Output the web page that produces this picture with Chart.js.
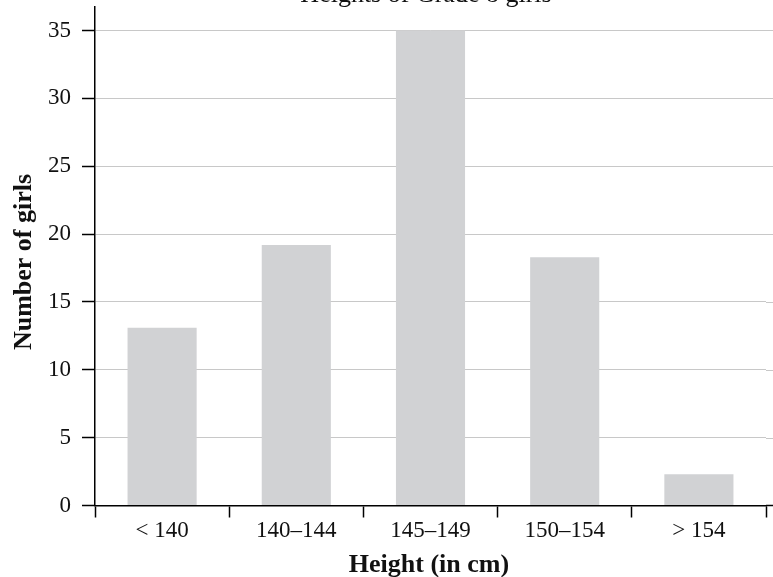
<!DOCTYPE html>
<html>
<head>
<meta charset="utf-8">
<script src="https://cdn.jsdelivr.net/npm/chart.js@4"></script>
<style>
  html, body { margin: 0; padding: 0; background: #fff; }
  #wrap { width: 773px; height: 577px; }
</style>
</head>
<body>
<div id="wrap"><canvas id="chart" width="773" height="577"></canvas></div>
<script>
// data
const categories = ['< 140', '140\u2013144', '145\u2013149', '150\u2013154', '> 154'];
const girls = [13.1, 19.2, 35, 18.3, 2.3];
const yTicks = [0, 5, 10, 15, 20, 25, 30, 35];

const chartTitle = 'Heights of Grade 8 girls';
const xTitle = 'Height (in cm)';
const yTitle = 'Number of girls';

const serif = "'Liberation Serif', 'Times New Roman', serif";

// titles drawn by hand so they sit where the original has them
const titlesPlugin = {
    id: 'titles',
    afterDraw(chart) {
        const ctx = chart.ctx;
        ctx.save();
        ctx.fillStyle = '#111';
        ctx.textAlign = 'center';

        // main title is cut off at the top edge
        ctx.font = '26px ' + serif;
        ctx.textBaseline = 'alphabetic';
        ctx.fillText(chartTitle, 426, 2);

        ctx.font = 'bold 26px ' + serif;
        ctx.textBaseline = 'middle';
        ctx.fillText(xTitle, 429, 565);

        ctx.translate(24, 262);
        ctx.rotate(-Math.PI / 2);
        ctx.fillText(yTitle, 0, 0);
        ctx.restore();
    }
};

// grid lines run a little past the last category in the original
const extendGrid = {
    id: 'extendGrid',
    beforeDatasetsDraw(chart) {
        const ctx = chart.ctx;
        const y = chart.scales.y;
        const area = chart.chartArea;
        ctx.save();
        ctx.strokeStyle = '#c8c8c8';
        ctx.lineWidth = 1;
        yTicks.forEach(v => {
            if (v === 0) return;
            const py = Math.round(y.getPixelForValue(v)) + 0.5;
            ctx.beginPath();
            ctx.moveTo(area.right, py);
            ctx.lineTo(chart.width, py);
            ctx.stroke();
        });
        // x axis line continues too
        const p0 = y.getPixelForValue(0);
        ctx.strokeStyle = '#000';
        ctx.lineWidth = 1.5;
        ctx.beginPath();
        ctx.moveTo(area.right, p0);
        ctx.lineTo(chart.width, p0);
        ctx.stroke();
        ctx.restore();
    }
};

new Chart(document.getElementById('chart').getContext('2d'), {
    type: 'bar',
    data: {
        labels: categories,
        datasets: [{
            label: yTitle,
            data: girls,
            backgroundColor: '#d1d2d4',
            borderWidth: 0,
            barPercentage: 0.515,
            categoryPercentage: 1.0,
        }],
    },
    options: {
        responsive: false,
        animation: false,
        layout: {
            padding: { top: 7, right: 7, left: 0, bottom: 0 },
        },
        plugins: {
            legend: { display: false },
            tooltip: { enabled: false },
            title: { display: false },
        },
        scales: {
            x: {
                offset: true,
                grid: {
                    offset: true,
                    drawOnChartArea: false,
                    drawTicks: true,
                    tickLength: 12,
                    tickColor: '#000',
                    tickWidth: 1.5,
                },
                border: { color: '#000', width: 1.5 },
                ticks: {
                    color: '#111',
                    font: { family: serif, size: 23 },
                    padding: 0,
                    maxRotation: 0,
                },
                afterFit(scale) {
                    scale.height = 577 - 505.5;
                    scale.paddingLeft = 0;
                    scale.paddingRight = 0;
                },
            },
            y: {
                min: 0,
                max: 36.73,
                afterBuildTicks(scale) {
                    scale.ticks = yTicks.map(v => ({ value: v }));
                },
                grid: {
                    color: '#c8c8c8',
                    lineWidth: 1,
                    drawTicks: true,
                    tickLength: 13,
                    tickColor: '#000',
                    tickWidth: 1.5,
                },
                border: { color: '#000', width: 1.5 },
                ticks: {
                    color: '#111',
                    font: { family: serif, size: 23 },
                    padding: 11,
                },
                afterFit(scale) {
                    scale.width = 95;
                    scale.paddingTop = 0;
                    scale.paddingBottom = 0;
                },
            },
        },
    },
    plugins: [extendGrid, titlesPlugin],
});
</script>
</body>
</html>
